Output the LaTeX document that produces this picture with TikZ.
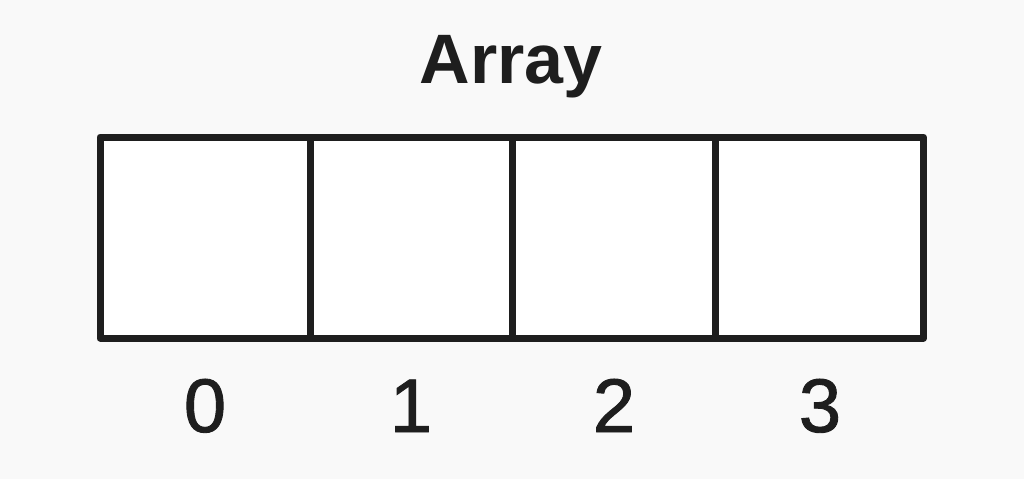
\documentclass[tikz,border=0pt]{standalone}
\usepackage{fontspec}
\setmainfont{Liberation Sans}
\newfontfamily\digitfont[FakeBold=1.2]{Liberation Sans}
\definecolor{bgcol}{HTML}{F9F9F9}
\definecolor{ink}{HTML}{1E1E1E}
\tikzset{
  cell/.style={draw=ink, fill=white, line width=7pt, line join=round,
    minimum height=201pt, inner sep=0pt, outer sep=0pt},
  idx/.style={text=ink, font=\digitfont\fontsize{76}{90}\selectfont, anchor=base, inner sep=0pt},
  titlestyle/.style={text=ink, font=\fontsize{70}{84}\selectfont\bfseries, anchor=base, inner sep=0pt}
}
\begin{document}
\begin{tikzpicture}[x=1pt,y=-1pt]
\fill[bgcol] (0,0) rectangle (1024,479);
\useasboundingbox (0,0) rectangle (1024,479);
\node[titlestyle] (title) at (511,83) {Array};
\node[cell, minimum width=210pt] (c0) at (205,237.5) {};
\node[cell, minimum width=202pt] (c1) at (411,237.5) {};
\node[cell, minimum width=203pt] (c2) at (613.5,237.5) {};
\node[cell, minimum width=208.5pt] (c3) at (819.25,237.5) {};
\node[idx] (l0) at (205,432) {0};
\node[idx] (l1) at (411,432) {1};
\node[idx] (l2) at (614,432) {2};
\node[idx] (l3) at (820,432) {3};
\end{tikzpicture}
\end{document}
